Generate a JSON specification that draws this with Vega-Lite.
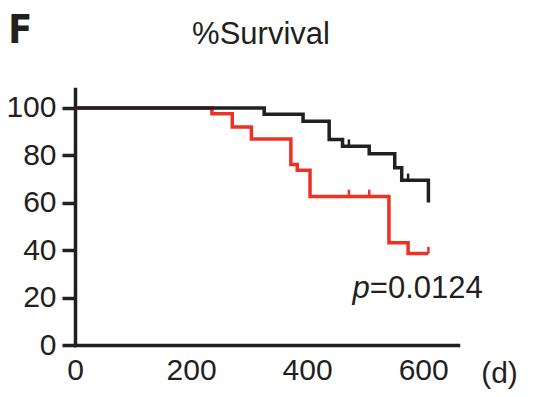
{
  "$schema": "https://vega.github.io/schema/vega-lite/v6.json",
  "autosize": "none",
  "padding": {"left": 75, "top": 89, "right": 76, "bottom": 52},
  "width": 383,
  "height": 256,
  "background": "white",
  "config": {
    "view": {"stroke": null},
    "font": "Liberation Sans",
    "axis": {
      "domainColor": "#231f20",
      "domainWidth": 3.5,
      "domainCap": "square",
      "tickColor": "#231f20",
      "tickWidth": 3.5,
      "labelColor": "#231f20",
      "labelFont": "Liberation Sans",
      "labelFontSize": 30,
      "grid": false
    }
  },
  "datasets": {
    "curves": [
      {"group": "black", "day": 0, "pct": 100},
      {"group": "black", "day": 326, "pct": 97.3},
      {"group": "black", "day": 393, "pct": 94.4},
      {"group": "black", "day": 438, "pct": 86.7},
      {"group": "black", "day": 461, "pct": 83.9},
      {"group": "black", "day": 507, "pct": 80.7},
      {"group": "black", "day": 551, "pct": 74.8},
      {"group": "black", "day": 563, "pct": 69.5},
      {"group": "black", "day": 609, "pct": 60.1},
      {"group": "red", "day": 0, "pct": 100},
      {"group": "red", "day": 236, "pct": 97.6},
      {"group": "red", "day": 271, "pct": 92.0},
      {"group": "red", "day": 304, "pct": 86.9},
      {"group": "red", "day": 372, "pct": 76.2},
      {"group": "red", "day": 383, "pct": 73.7},
      {"group": "red", "day": 405, "pct": 62.7},
      {"group": "red", "day": 541, "pct": 43.1},
      {"group": "red", "day": 574, "pct": 38.6},
      {"group": "red", "day": 609, "pct": 38.6}
    ],
    "censor": [
      {"group": "black", "day": 472, "pct": 83.9},
      {"group": "black", "day": 574, "pct": 69.5},
      {"group": "red", "day": 472, "pct": 62.7},
      {"group": "red", "day": 507, "pct": 62.7},
      {"group": "red", "day": 609, "pct": 38.6}
    ],
    "labels": [
      {"label": "F", "day": -115, "pct": 127.4, "kind": "panel"},
      {"label": "%Survival", "day": 320.5, "pct": 126.9, "kind": "title"},
      {"label": "p", "day": 508, "pct": 20, "kind": "pitalic"},
      {"label": "=0.0124", "day": 508, "pct": 20, "kind": "pvalue"}
    ]
  },
  "layer": [
    {
      "data": {"name": "curves"},
      "transform": [{"filter": "datum.group === 'red'"}],
      "mark": {"type": "line", "interpolate": "step-after", "strokeWidth": 3.5, "strokeCap": "butt", "strokeJoin": "miter", "color": "#ed3224"},
      "encoding": {
        "x": {"field": "day", "type": "quantitative", "scale": {"domain": [0, 660], "nice": false, "zero": false},
          "axis": {"values": [0, 200, 400, 600], "ticks": false, "labelPadding": 10, "title": "(d)", "titleFont": "Liberation Sans", "titleFontSize": 30, "titleFontWeight": "normal", "titleColor": "#231f20", "titleX": 424, "titleY": 37, "titleAlign": "center", "titleBaseline": "alphabetic", "labelFlush": false, "labelOverlap": false}},
        "y": {"field": "pct", "type": "quantitative", "scale": {"domain": [0, 108], "nice": false},
          "axis": {"values": [0, 20, 40, 60, 80, 100], "tickSize": 13, "labelPadding": 6, "title": null, "labelFlush": false, "labelOverlap": false}}
      }
    },
    {
      "data": {"name": "curves"},
      "transform": [{"filter": "datum.group === 'black'"}],
      "mark": {"type": "line", "interpolate": "step-after", "strokeWidth": 3.5, "strokeCap": "butt", "strokeJoin": "miter", "color": "#231f20"},
      "encoding": {
        "x": {"field": "day", "type": "quantitative"},
        "y": {"field": "pct", "type": "quantitative"}
      }
    },
    {
      "data": {"name": "censor"},
      "mark": {"type": "point", "shape": "M0,0V-1", "filled": false, "size": 180, "strokeWidth": 2.5, "opacity": 1},
      "encoding": {
        "x": {"field": "day", "type": "quantitative"},
        "y": {"field": "pct", "type": "quantitative"},
        "color": {"field": "group", "type": "nominal", "scale": {"domain": ["black", "red"], "range": ["#231f20", "#ed3224"]}, "legend": null}
      }
    },
    {
      "data": {"name": "labels"},
      "transform": [{"filter": "datum.kind === 'panel'"}],
      "mark": {"type": "text", "font": "DejaVu Sans Condensed, Liberation Sans", "fontWeight": "bold", "fontSize": 39, "align": "left", "baseline": "alphabetic", "color": "#231f20"},
      "encoding": {
        "x": {"field": "day", "type": "quantitative"},
        "y": {"field": "pct", "type": "quantitative"},
        "text": {"field": "label"}
      }
    },
    {
      "data": {"name": "labels"},
      "transform": [{"filter": "datum.kind === 'title'"}],
      "mark": {"type": "text", "font": "Liberation Sans", "fontSize": 31, "align": "center", "baseline": "alphabetic", "color": "#231f20"},
      "encoding": {
        "x": {"field": "day", "type": "quantitative"},
        "y": {"field": "pct", "type": "quantitative"},
        "text": {"field": "label"}
      }
    },
    {
      "data": {"name": "labels"},
      "transform": [{"filter": "datum.kind === 'pitalic'"}],
      "mark": {"type": "text", "font": "Liberation Sans", "fontStyle": "italic", "fontSize": 31, "align": "right", "baseline": "alphabetic", "color": "#231f20"},
      "encoding": {
        "x": {"field": "day", "type": "quantitative"},
        "y": {"field": "pct", "type": "quantitative"},
        "text": {"field": "label"}
      }
    },
    {
      "data": {"name": "labels"},
      "transform": [{"filter": "datum.kind === 'pvalue'"}],
      "mark": {"type": "text", "font": "Liberation Sans", "fontSize": 31, "align": "left", "baseline": "alphabetic", "color": "#231f20"},
      "encoding": {
        "x": {"field": "day", "type": "quantitative"},
        "y": {"field": "pct", "type": "quantitative"},
        "text": {"field": "label"}
      }
    }
  ]
}
